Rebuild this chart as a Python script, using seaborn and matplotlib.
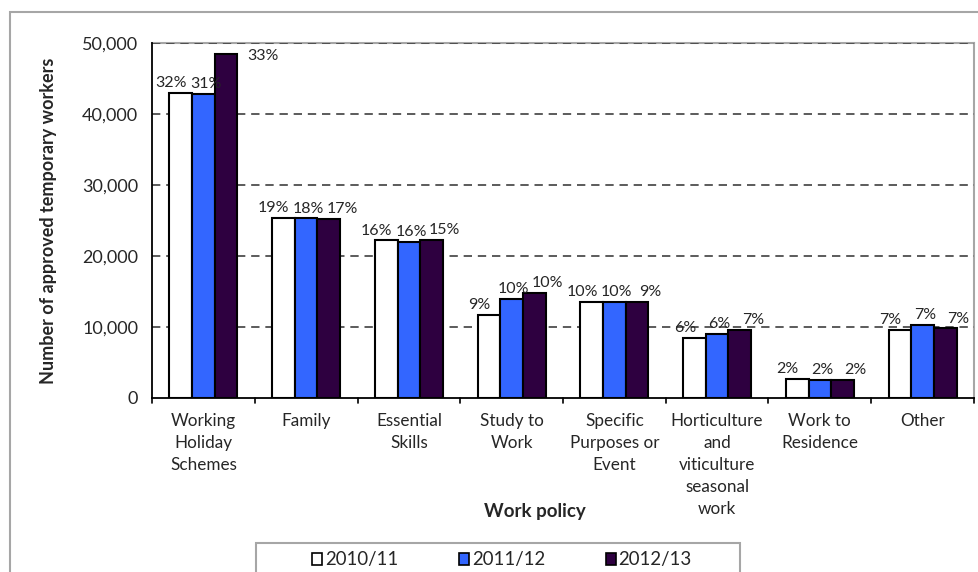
import matplotlib
matplotlib.use("Agg")
import matplotlib.pyplot as plt
from matplotlib.patches import Rectangle
import seaborn as sns
import pandas as pd

categories = [
    "Working\nHoliday\nSchemes",
    "Family",
    "Essential\nSkills",
    "Study to\nWork",
    "Specific\nPurposes or\nEvent",
    "Horticulture\nand\nviticulture\nseasonal\nwork",
    "Work to\nResidence",
    "Other",
]
years = ["2010/11", "2011/12", "2012/13"]

workers_2010_11 = [43000, 25350, 22200, 11750, 13500, 8450, 2700, 9600]
workers_2011_12 = [42850, 25300, 22000, 14000, 13500, 9050, 2550, 10250]
workers_2012_13 = [48400, 25250, 22300, 14800, 13550, 9600, 2550, 9800]

share_2010_11 = ["32%", "19%", "16%", "9%", "10%", "6%", "2%", "7%"]
share_2011_12 = ["31%", "18%", "16%", "10%", "10%", "6%", "2%", "7%"]
share_2012_13 = ["33%", "17%", "15%", "10%", "9%", "7%", "2%", "7%"]

colors = ["#FFFFFF", "#3366FF", "#2E0040"]

rows = []
for yr, vals in zip(years, [workers_2010_11, workers_2011_12, workers_2012_13]):
    for cat, v in zip(categories, vals):
        rows.append({"policy": cat, "year": yr, "workers": v})
df = pd.DataFrame(rows)

sns.set_theme(style="white")
plt.rcParams["font.family"] = ["Lato", "DejaVu Sans"]

W, H = 979, 572
fig = plt.figure(figsize=(W / 100, H / 100), dpi=100)
ax = fig.add_axes([152 / W, 1 - 398 / H, (974 - 152) / W, (398 - 43) / H])

sns.barplot(
    data=df, x="policy", y="workers", hue="year", order=categories,
    hue_order=years, palette=colors, width=0.66, edgecolor="black",
    linewidth=1.5, saturation=1, ax=ax, legend=False, zorder=3,
)

ax.set_ylim(0, 50000)
ax.set_xlim(-0.5, len(categories) - 0.5)
ax.set_yticks(range(0, 50001, 10000))
ax.set_yticklabels([f"{v:,}" for v in range(0, 50001, 10000)], fontsize=13)
ax.set_xticks(range(len(categories)))
ax.set_xticklabels(categories, fontsize=12.3, linespacing=1.45, va="top")
ax.tick_params(axis="x", length=0, pad=11)
ax.tick_params(axis="y", direction="inout", length=8, width=1.2, color="black", pad=6)

# category separators on the x axis
for b in range(len(categories) + 1):
    ax.plot([b - 0.5, b - 0.5], [0, -0.014], transform=ax.get_xaxis_transform(),
            color="black", lw=1.2, clip_on=False, zorder=5)

for yv in range(10000, 50001, 10000):
    ax.axhline(yv, color="#404040", lw=1.2, ls=(0, (5, 3.5)), zorder=1)

for side in ["left", "bottom"]:
    ax.spines[side].set_color("black")
    ax.spines[side].set_linewidth(1.3)
for side in ["top", "right"]:
    ax.spines[side].set_color("#A6A6A6")
    ax.spines[side].set_linewidth(1.5)
    ax.spines[side].set_zorder(0)

ax.set_xlabel("Work policy", fontsize=13.5, fontweight="bold")
ax.xaxis.set_label_coords(0.466, -0.295)
ax.set_ylabel("Number of approved temporary workers", fontsize=13,
              fontweight="bold")
ax.yaxis.set_label_coords(-0.115, 0.5)

# percentage share labels above each bar, spread sideways to stay apart
shares = [share_2010_11, share_2011_12, share_2012_13]
side_shift = [-7, 1.5, 9.5]
for k, (container, labels) in enumerate(zip(ax.containers, shares)):
    for i, (bar, lab) in enumerate(zip(container, labels)):
        x = bar.get_x() + bar.get_width() / 2
        y = bar.get_height()
        if i == 0 and k == 2:
            ax.annotate(lab, (bar.get_x() + bar.get_width(), y), xytext=(7, -1),
                        textcoords="offset points", ha="left", va="center",
                        fontsize=11.5)
        else:
            ax.annotate(lab, (x, y), xytext=(side_shift[k], 2),
                        textcoords="offset points", ha="center", va="bottom",
                        fontsize=11.5)

# legend with its own frame
handles = [Rectangle((0, 0), 1, 1, facecolor=c, edgecolor="black", lw=1.2)
           for c in colors]
fig.legend(handles, years, loc="center", bbox_to_anchor=(502 / W, 1 - 560 / H),
           ncol=3, frameon=False, fontsize=13.4, handlelength=0.55,
           handleheight=0.55, handletextpad=0.15, columnspacing=3.25)
fig.patches.append(Rectangle((256 / W, -0.05), (740 - 256) / W, (1 - 543 / H) + 0.05,
                             transform=fig.transFigure, facecolor="none",
                             edgecolor="#A6A6A6", lw=1.5))
# outer chart border
fig.patches.append(Rectangle((10 / W, -0.05), 1.0, (1 - 12 / H) + 0.05,
                             transform=fig.transFigure, facecolor="none",
                             edgecolor="#A6A6A6", lw=1.5))

fig.savefig("out.png", dpi=100)
